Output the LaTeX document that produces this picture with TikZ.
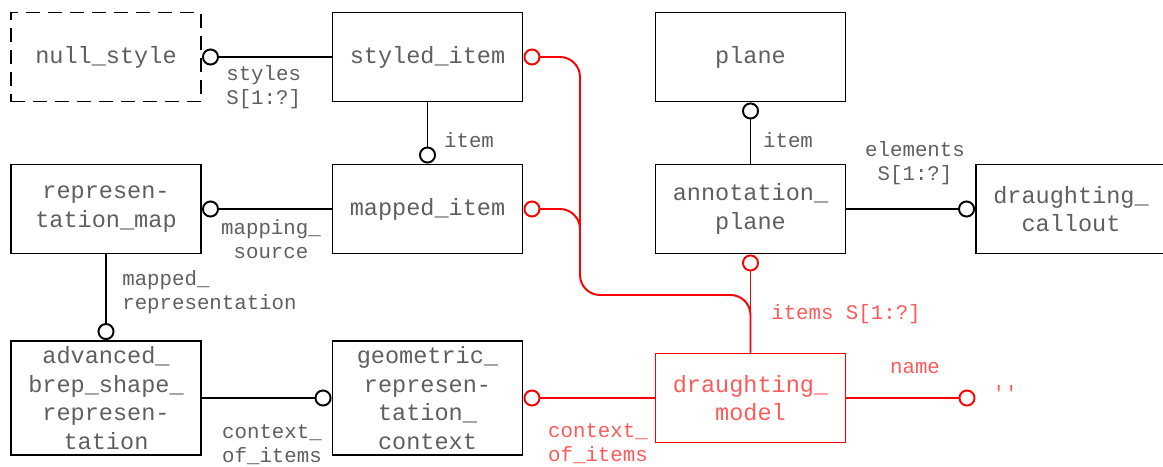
\documentclass[tikz,border=0pt]{standalone}
\usepackage{fontspec}
\setmonofont{Liberation Mono}
\usepackage{tikz}
\usetikzlibrary{arrows.meta}
\definecolor{txtgray}{RGB}{95,95,95}
\definecolor{relred}{RGB}{255,0,0}
\definecolor{txtred}{RGB}{255,90,90}

\begin{document}
\begin{tikzpicture}[
  box/.style={draw,line width=1.1pt,minimum width=3.8cm,minimum height=1.78cm,inner sep=1pt,align=center,text=txtgray,font=\ttfamily\fontsize{13.4}{16.2}\selectfont},
  tall/.style={minimum height=2.28cm},
  lbl/.style={inner sep=0pt,text=txtgray,font=\ttfamily\fontsize{11.8}{13.6}\selectfont},
  rel/.style={-{Circle[open,length=3.4mm,width=3.4mm]},line width=1.1pt},
  rrel/.style={rel,draw=relred}]
\useasboundingbox (0,0) rectangle (23.26,-9.32);
% entities
\node[box,dash pattern=on 2.8mm off 1.6mm] (nullst) at (2.12,-1.14) {null\_style};
\node[box] (styled) at (8.55,-1.14) {styled\_item};
\node[box] (plane) at (15.01,-1.14) {plane};
\node[box] (repmap) at (2.12,-4.18) {represen-\\tation\_map};
\node[box] (mapped) at (8.55,-4.18) {mapped\_item};
\node[box] (annot) at (15.01,-4.18) {annotation\_\\plane};
\node[box] (callout) at (21.42,-4.18) {draughting\_\\callout};
\node[box,tall] (abrep) at (2.12,-7.96) {advanced\_\\brep\_shape\_\\represen-\\tation};
\node[box,tall] (geoctx) at (8.55,-7.96) {geometric\_\\represen-\\tation\_\\context};
\node[box,draw=relred,text=txtred] (dmodel) at (15.01,-7.96) {draughting\_\\model};
% relations
\draw[rel] (styled.west) -- (nullst.east);
\draw[rel] (styled.south) -- (mapped.north);
\draw[rel] (mapped.west) -- (repmap.east);
\draw[rel] (repmap.south) -- (abrep.north);
\draw[rel] (abrep.east) -- (geoctx.west);
\draw[rel] (annot.north) -- (plane.south);
\draw[rel] (annot.east) -- (callout.west);
\coordinate (bus) at (11.6,-5.9);
\coordinate (branch) at (11.6,-5.0);
\coordinate (nameend) at (19.51,-7.96);
\draw[rrel] (dmodel.west) -- (geoctx.east);
\draw[rrel] (dmodel.north) -- (annot.south);
\draw[rrel] (dmodel.east) -- (nameend);
\draw[rrel,rounded corners=4mm] (dmodel.north) |- (bus) |- (styled.east);
\draw[rrel,rounded corners=4mm] (branch) |- (mapped.east);
% role labels
\node[lbl,align=left,anchor=west] (stylesl) at (4.52,-1.75) {styles\\S[1:?]};
\node[lbl] (iteml) at (9.38,-2.8) {item};
\node[lbl,align=center] (mapsrcl) at (5.42,-4.79) {mapping\_\\source};
\node[lbl,align=left,anchor=west] (maprepl) at (2.44,-5.84) {mapped\_\\representation};
\node[lbl,align=left] (ctxl) at (5.44,-8.9) {context\_\\of\_items};
\node[lbl,align=left,text=txtred] (rctxl) at (11.96,-8.87) {context\_\\of\_items};
\node[lbl] (planeitl) at (15.76,-2.8) {item};
\node[lbl,align=center] (elemsl) at (18.3,-3.27) {elements\\S[1:?]};
\node[lbl,text=txtred] (itemsl) at (16.92,-6.28) {items S[1:?]};
\node[lbl,text=txtred] (namel) at (18.3,-7.36) {name};
\node[lbl,text=txtred] (quote) at (20.1,-7.86) {''};
\end{tikzpicture}
\end{document}
